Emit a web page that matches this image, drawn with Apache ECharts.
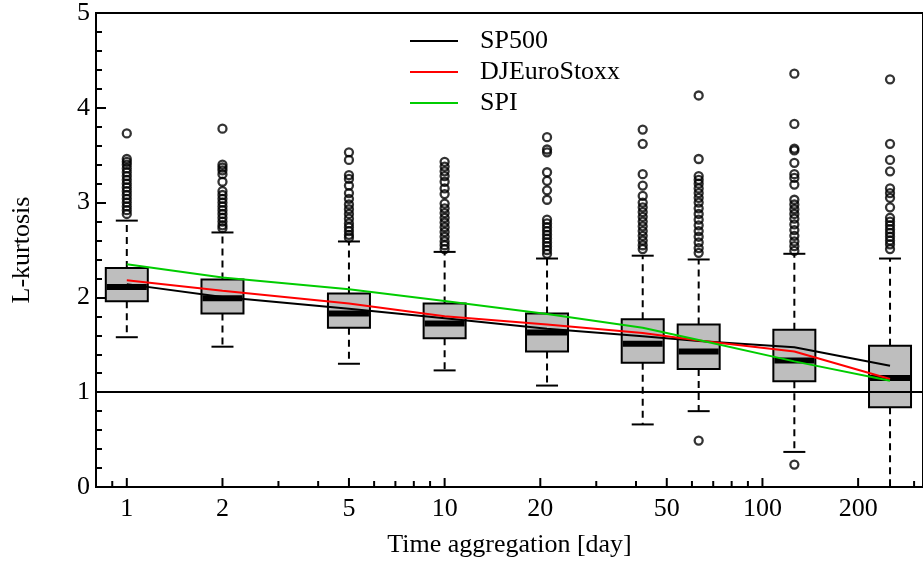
<!DOCTYPE html>
<html><head><meta charset="utf-8">
<script src="https://cdn.jsdelivr.net/npm/echarts@6/dist/echarts.min.js"></script>
<style>html,body{margin:0;padding:0;background:#fff}#c{width:923px;height:564px}</style>
</head><body><div id="c"></div>
<script>
// ---- data ----
const days = [1, 2, 5, 10, 21, 42, 63, 126, 252];
const whiskerLow  = [1.58, 1.48, 1.30, 1.23, 1.07, 0.66, 0.80, 0.37, -0.06];
const q1          = [1.96, 1.83, 1.68, 1.57, 1.43, 1.31, 1.245, 1.115, 0.84];
const median      = [2.11, 1.99, 1.83, 1.725, 1.63, 1.51, 1.43, 1.335, 1.15];
const q3          = [2.31, 2.19, 2.04, 1.935, 1.83, 1.77, 1.715, 1.66, 1.49];
const whiskerHigh = [2.81, 2.685, 2.59, 2.48, 2.41, 2.44, 2.40, 2.46, 2.41];
const outliers = [
  [3.73, 3.46, 3.43, 3.40, 3.36, 3.32, 3.28, 3.24, 3.20, 3.16, 3.12, 3.08, 3.04, 3.00, 2.96, 2.92, 2.88],
  [3.78, 3.40, 3.37, 3.34, 3.30, 3.22, 3.12, 3.08, 3.04, 3.00, 2.96, 2.92, 2.88, 2.84, 2.80, 2.76, 2.73],
  [3.53, 3.45, 3.29, 3.25, 3.18, 3.10, 3.04, 2.98, 2.93, 2.88, 2.83, 2.78, 2.74, 2.70, 2.66, 2.63],
  [3.43, 3.38, 3.33, 3.28, 3.22, 3.15, 3.09, 2.99, 2.94, 2.89, 2.84, 2.79, 2.74, 2.69, 2.64, 2.59, 2.55, 2.51],
  [3.69, 3.56, 3.53, 3.32, 3.23, 3.13, 3.03, 2.82, 2.78, 2.74, 2.70, 2.66, 2.62, 2.58, 2.54, 2.50, 2.46],
  [3.77, 3.62, 3.30, 3.18, 3.07, 3.00, 2.95, 2.90, 2.85, 2.80, 2.75, 2.70, 2.65, 2.60, 2.55, 2.51],
  [4.13, 3.46, 3.28, 3.24, 3.20, 3.15, 3.10, 3.05, 3.00, 2.94, 2.88, 2.82, 2.76, 2.70, 2.64, 2.58, 2.52, 2.47, 0.49],
  [4.36, 3.83, 3.57, 3.55, 3.42, 3.30, 3.26, 3.19, 3.03, 2.98, 2.93, 2.88, 2.83, 2.77, 2.71, 2.65, 2.59, 2.54, 2.49, 0.237],
  [4.30, 3.62, 3.45, 3.33, 3.15, 3.10, 3.05, 2.95, 2.84, 2.80, 2.76, 2.72, 2.68, 2.64, 2.60, 2.56, 2.51]
];
const sp500       = [2.14, 2.005, 1.88, 1.78, 1.67, 1.59, 1.54, 1.475, 1.28];
const djEuroStoxx = [2.18, 2.07, 1.935, 1.80, 1.715, 1.625, 1.545, 1.43, 1.14];
const spi         = [2.35, 2.21, 2.085, 1.963, 1.824, 1.68, 1.55, 1.325, 1.12];
const majorTicks = [1, 2, 5, 10, 20, 50, 100, 200];
const majorTickLabels = ['1', '2', '5', '10', '20', '50', '100', '200'];
const minorTicks = [0.9, 3, 4, 6, 7, 8, 9, 30, 40, 60, 70, 80, 90, 300];
const referenceLevel = 1;

// ---- chart ----
const FONT = 'Liberation Serif';
const FS = 26;
const chart = echarts.init(document.getElementById('c'), null, {renderer: 'canvas'});

const boxData = days.map((d, i) => [d, whiskerLow[i], q1[i], median[i], q3[i], whiskerHigh[i]]);
const outlierData = [];
outliers.forEach((arr, i) => arr.forEach(v => outlierData.push([days[i], v])));

function renderBox(params, api) {
  const x = api.value(0);
  const p = v => api.coord([x, v]);
  const cx = p(api.value(3))[0];
  const yLo = p(api.value(1))[1], yQ1 = p(api.value(2))[1], yMed = p(api.value(3))[1],
        yQ3 = p(api.value(4))[1], yHi = p(api.value(5))[1];
  const hw = 21, cap = 11;
  const dash = {stroke: '#000', lineWidth: 2, lineDash: [7, 5], fill: null};
  const solid = {stroke: '#000', lineWidth: 2, fill: null};
  return {
    type: 'group',
    children: [
      {type: 'line', shape: {x1: cx, y1: yQ3, x2: cx, y2: yHi}, style: dash},
      {type: 'line', shape: {x1: cx, y1: yQ1, x2: cx, y2: yLo}, style: dash},
      {type: 'line', shape: {x1: cx - cap, y1: yHi, x2: cx + cap, y2: yHi}, style: solid},
      {type: 'line', shape: {x1: cx - cap, y1: yLo, x2: cx + cap, y2: yLo}, style: solid},
      {type: 'rect', shape: {x: cx - hw, y: yQ3, width: 2 * hw, height: yQ1 - yQ3},
        style: {fill: '#bebebe', stroke: '#000', lineWidth: 2}},
      {type: 'line', shape: {x1: cx - hw + 1, y1: yMed, x2: cx + hw - 1, y2: yMed},
        style: {stroke: '#000', lineWidth: 6}}
    ]
  };
}

function renderTick(isMajor) {
  return function (params, api) {
    const v = api.value(0);
    const pt = api.coord([v, 0]);
    const len = isMajor ? 9 : 6;
    const children = [
      {type: 'line', shape: {x1: pt[0], y1: pt[1], x2: pt[0], y2: pt[1] - len},
        style: {stroke: '#000', lineWidth: 2}}
    ];
    if (isMajor) {
      children.push({type: 'text', x: pt[0], y: pt[1] + 9,
        style: {text: majorTickLabels[params.dataIndex], fontFamily: FONT, fontSize: FS,
          fill: '#000', align: 'center', verticalAlign: 'top'}});
    }
    return {type: 'group', children};
  };
}

const option = {
  backgroundColor: '#fff',
  animation: false,
  grid: {left: 96, right: -1, top: 9, bottom: 77, show: true, borderColor: '#000', borderWidth: 2,
    backgroundColor: 'transparent'},
  legend: {
    data: ['SP500', 'DJEuroStoxx', 'SPI'],
    orient: 'vertical', left: 410, top: 28, padding: 0,
    icon: 'rect', itemWidth: 48, itemHeight: 2, itemGap: 5,
    textStyle: {fontFamily: FONT, fontSize: FS, color: '#000', padding: [0, 0, 0, 17]}
  },
  xAxis: {
    type: 'log', logBase: 10, min: 0.8, max: 320,
    axisLine: {show: true, lineStyle: {color: '#000', width: 2}},
    axisTick: {show: false}, axisLabel: {show: false}, splitLine: {show: false}, minorTick: {show: false},
    name: 'Time aggregation [day]', nameLocation: 'middle', nameGap: 45,
    nameTextStyle: {fontFamily: FONT, fontSize: FS, color: '#000'}
  },
  yAxis: {
    type: 'value', min: 0, max: 5, interval: 1,
    axisLine: {show: true, lineStyle: {color: '#000', width: 2}},
    axisTick: {show: true, inside: true, length: 10, lineStyle: {color: '#000', width: 2}},
    minorTick: {show: true, splitNumber: 5, length: 6, lineStyle: {color: '#000', width: 2}},
    axisLabel: {fontFamily: FONT, fontSize: FS, color: '#000', margin: 6},
    splitLine: {show: false},
    name: 'L-kurtosis', nameLocation: 'middle', nameRotate: 90, nameGap: 61,
    nameTextStyle: {fontFamily: FONT, fontSize: FS, color: '#000'}
  },
  series: [
    {type: 'custom', name: 'boxes', data: boxData, renderItem: renderBox, clip: true, z: 2,
      encode: {x: 0, y: [1, 2, 3, 4, 5]}, silent: true},
    {type: 'scatter', name: 'outliers', data: outlierData, symbol: 'circle', symbolSize: 8,
      itemStyle: {color: 'rgba(0,0,0,0)', borderColor: '#000', borderWidth: 2.3}, z: 3, silent: true},
    {type: 'line', name: 'SP500', data: days.map((d, i) => [d, sp500[i]]), symbol: 'none',
      lineStyle: {color: '#000', width: 2}, itemStyle: {color: '#000'}, z: 4,
      markLine: {silent: true, symbol: 'none', label: {show: false},
        lineStyle: {color: '#000', width: 2, type: 'solid'}, data: [{yAxis: referenceLevel}]}},
    {type: 'line', name: 'DJEuroStoxx', data: days.map((d, i) => [d, djEuroStoxx[i]]), symbol: 'none',
      lineStyle: {color: '#ff0000', width: 2}, itemStyle: {color: '#ff0000'}, z: 4},
    {type: 'line', name: 'SPI', data: days.map((d, i) => [d, spi[i]]), symbol: 'none',
      lineStyle: {color: '#00cd00', width: 2}, itemStyle: {color: '#00cd00'}, z: 4},
    {type: 'custom', name: 'majorTicks', data: majorTicks.map(v => [v, 0]), renderItem: renderTick(true),
      clip: false, z: 5, silent: true},
    {type: 'custom', name: 'minorTicks', data: minorTicks.map(v => [v, 0]), renderItem: renderTick(false),
      clip: false, z: 5, silent: true}
  ]
};
chart.setOption(option);
</script>
</body></html>
